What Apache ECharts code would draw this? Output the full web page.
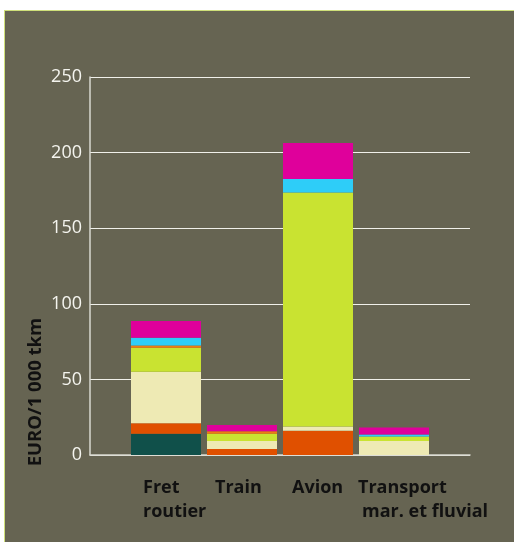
<!DOCTYPE html>
<html>
<head>
<meta charset="utf-8">
<script src="https://cdn.jsdelivr.net/npm/echarts@6/dist/echarts.min.js"></script>
<style>
  html, body { margin: 0; padding: 0; background: #fff; }
  #bg {
    position: absolute; left: 4px; top: 10px; right: 0; bottom: 0;
    background: #666452;
    border-left: 1px solid #cfe07a;
    border-top: 1px solid #cfe07a;
  }
  #chart { position: absolute; left: 0; top: 0; width: 514px; height: 542px; }
</style>
</head>
<body>
<div id="bg"></div>
<div id="chart"></div>
<script>
  // categories, bottom to top stacking order of cost parts
  const categories = ['Fret\nroutier', 'Train', 'Avion', 'Transport\nmar. et fluvial']
  const teal = [14, 0, 0, 0]
  const orange = [7, 4, 16, 0]
  const cream = [34, 5.3, 2.8, 9.3]
  const green = [16, 4.8, 154.8, 3]
  const amber = [1.5, 1.6, 0, 0]
  const cyan = [5, 0, 8.9, 1.3]
  const magenta = [11.2, 4.2, 23.8, 4.6]
  const yTicks = [0, 50, 100, 150, 200, 250]

  const colors = ['#10504a', '#e05000', '#eeeab4', '#c9e331', '#ef7d10', '#2ecdf8', '#df009b']
  const parts = [teal, orange, cream, green, amber, cyan, magenta]

  // empty slot at each end so the bars sit like the original
  const pad = (arr) => [null].concat(arr, [null])
  const xData = pad(categories).map((c) => (c === null ? '' : c))

  const labelShift = {
    'Fret\nroutier': '{f|Fret}\n{f|routier}',
    'Train': '{t|Train}',
    'Avion': '{a|Avion}',
    'Transport\nmar. et fluvial': '{m1|Transport}\n{m2|mar. et fluvial}',
  }
  const lbl = (dx) => ({
    fontFamily: 'Open Sans',
    fontWeight: 'bold',
    fontSize: 18,
    color: '#111',
    lineHeight: 24,
    padding: [0, 0, 0, dx],
  })

  let chart = echarts.init(document.getElementById('chart'))
  let option = {
    animation: false,
    grid: { left: 90, right: 44, top: 77, bottom: 87 },
    xAxis: {
      type: 'category',
      data: xData,
      boundaryGap: false,
      axisTick: { show: false },
      axisLine: { show: true, lineStyle: { color: '#d8d8d0', width: 1.5 } },
      axisLabel: {
        interval: 0,
        margin: 21,
        align: 'left',
        formatter: (v) => labelShift[v] || '',
        rich: {
          f: lbl(-23),
          t: lbl(-27),
          a: lbl(-26),
          m1: lbl(-36),
          m2: lbl(-32),
        },
      },
    },
    yAxis: {
      type: 'value',
      min: yTicks[0],
      max: yTicks[yTicks.length - 1],
      interval: 50,
      name: 'EURO/1 000 tkm',
      nameLocation: 'middle',
      nameRotate: 90,
      nameGap: 45,
      nameMoveOverlap: false,
      nameTextStyle: {
        fontFamily: 'Open Sans',
        fontWeight: 'bold',
        fontSize: 18.5,
        color: '#111',
        padding: [0, 252, 0, 0],
      },
      axisLine: { show: true, lineStyle: { color: '#d8d8d0', width: 1.5 } },
      axisTick: { show: false },
      axisLabel: {
        margin: 8,
        fontFamily: 'Open Sans',
        fontSize: 18,
        color: '#f4f4ee',
      },
      splitLine: { show: true, lineStyle: { color: '#f0f0ea', width: 1 } },
    },
    series: parts.map((p, i) => ({
      type: 'bar',
      stack: 'cost',
      barWidth: 70,
      itemStyle: { color: colors[i] },
      data: pad(p),
    })),
  }
  chart.setOption(option)
</script>
</body>
</html>
